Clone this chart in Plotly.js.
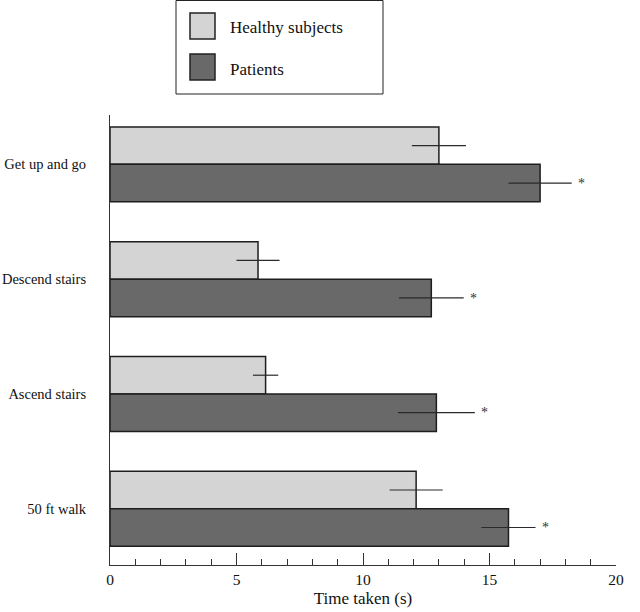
<!DOCTYPE html>
<html>
<head>
<meta charset="utf-8">
<script src="https://cdn.plot.ly/plotly-3.0.1.min.js"></script>
<style>html,body{margin:0;padding:0;background:#fff;}#chart{width:640px;height:612px;}</style>
</head>
<body>
<div id="chart"></div>
<script>
// Data
const categories = ["Get up and go", "Descend stairs", "Ascend stairs", "50 ft walk"];
const healthyMean = [13.0, 5.85, 6.15, 12.1];
const healthyErr = [1.07, 0.85, 0.5, 1.05];
const patientsMean = [17.0, 12.7, 12.9, 15.75];
const patientsErr = [1.25, 1.28, 1.52, 1.07];
const seriesNames = ["Healthy subjects", "Patients"];
const significant = ["*", "*", "*", "*"];
const xTickVals = [0, 5, 10, 15, 20];

const FONT = "Liberation Serif";
const W = 640, H = 612, L = 110, R = 24, T = 115, B = 47;
const pw = W - L - R, ph = H - T - B;
const px = x => (x - L) / pw;
const py = y => (H - B - y) / ph;

const healthy = {
  type: "bar", orientation: "h", name: seriesNames[0],
  y: categories, x: healthyMean,
  marker: { color: "#d4d4d4", line: { color: "#1e1e1e", width: 1.5 } },
  error_x: { type: "data", array: healthyErr, visible: true, width: 0, thickness: 1.2, color: "#2a2a2a" },
  showlegend: false, hoverinfo: "none"
};
const patients = {
  type: "bar", orientation: "h", name: seriesNames[1],
  y: categories, x: patientsMean,
  marker: { color: "#696969", line: { color: "#1e1e1e", width: 1.5 } },
  error_x: { type: "data", array: patientsErr, visible: true, width: 0, thickness: 1.2, color: "#2a2a2a" },
  showlegend: false, hoverinfo: "none"
};

const annotations = categories.map((c, i) => ({
  x: patientsMean[i] + patientsErr[i], y: c, xref: "x", yref: "y",
  text: significant[i], showarrow: false, xanchor: "center",
  xshift: 10, yshift: -19, font: { family: FONT, size: 14, color: "#333" }
}));

// manual legend
const legendBox = { type: "rect", xref: "paper", yref: "paper",
  x0: px(176), x1: px(383), y0: py(94), y1: py(0.5),
  line: { color: "#222", width: 1 }, fillcolor: "#fff" };
const sw1 = { type: "rect", xref: "paper", yref: "paper",
  x0: px(190), x1: px(215), y0: py(39), y1: py(13),
  line: { color: "#222", width: 1.5 }, fillcolor: "#d4d4d4" };
const sw2 = { type: "rect", xref: "paper", yref: "paper",
  x0: px(190), x1: px(215), y0: py(80), y1: py(54),
  line: { color: "#222", width: 1.5 }, fillcolor: "#696969" };
annotations.push({ xref: "paper", yref: "paper", x: px(228), y: py(28), text: seriesNames[0],
  showarrow: false, xanchor: "left", yanchor: "middle", font: { family: FONT, size: 17, color: "#111" } });
annotations.push({ xref: "paper", yref: "paper", x: px(228), y: py(69), text: seriesNames[1],
  showarrow: false, xanchor: "left", yanchor: "middle", font: { family: FONT, size: 17, color: "#111" } });

const layout = {
  width: W, height: H,
  margin: { l: L, r: R, t: T, b: B, pad: 0 },
  paper_bgcolor: "#fff", plot_bgcolor: "#fff",
  barmode: "group", bargap: 0.347, bargroupgap: 0,
  font: { family: FONT, color: "#111" },
  xaxis: {
    range: [0, 20], tickvals: xTickVals, ticktext: xTickVals.map(String),
    ticks: "inside", ticklen: 12, tickwidth: 1, tickcolor: "#333",
    minor: { dtick: 1, tick0: 0, ticks: "inside", ticklen: 6, tickwidth: 1, tickcolor: "#333", showgrid: false },
    showline: true, linecolor: "#333", linewidth: 1,
    showgrid: false, zeroline: false,
    tickfont: { family: FONT, size: 15.5, color: "#111" },
    title: { text: "Time taken (s)", font: { family: FONT, size: 17, color: "#111" }, standoff: 5 },
    fixedrange: true
  },
  yaxis: {
    type: "category", range: [3.49, -0.43],
    showline: true, linecolor: "#333", linewidth: 1,
    ticks: "", showgrid: false, zeroline: false,
    tickfont: { family: FONT, size: 14.5, color: "#111" },
    ticklabelstandoff: 20,
    fixedrange: true
  },
  shapes: [legendBox, sw1, sw2],
  annotations: annotations
};

Plotly.newPlot("chart", [healthy, patients], layout, { staticPlot: true, displayModeBar: false });
</script>
</body>
</html>
